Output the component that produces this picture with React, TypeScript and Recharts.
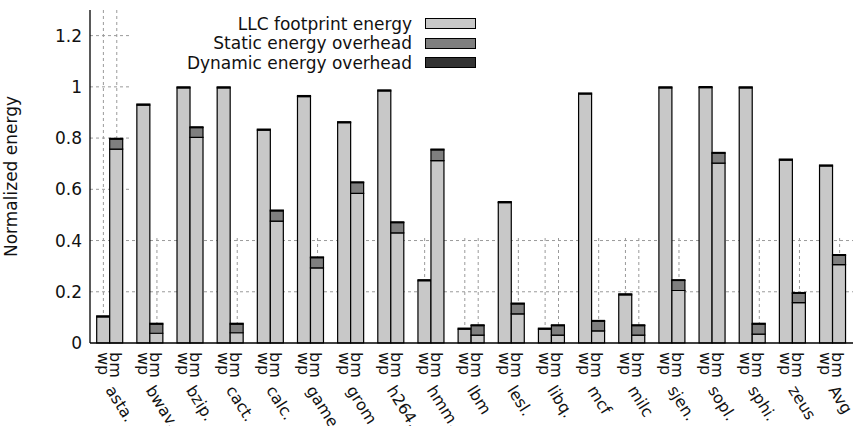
import {
  BarChart,
  Bar,
  XAxis,
  YAxis,
  CartesianGrid,
  Legend,
  ReferenceArea,
} from "recharts";

// benchmark groups, each drawn as a "wp" bar and a "bm" bar
const benchmarks = [
  "asta.", "bwav.", "bzip.", "cact.", "calc.", "game.", "grom.", "h264.", "hmm.", "lbm",
  "lesl.", "libq.", "mcf", "milc", "sjen.", "sopl.", "sphi.", "zeus", "Avg",
];

const wpLlc = [
  0.102, 0.929, 0.996, 0.996, 0.831, 0.962, 0.86, 0.984, 0.243, 0.054,
  0.548, 0.054, 0.972, 0.188, 0.996, 0.997, 0.996, 0.714, 0.691,
];
const wpStatic = [
  0, 0, 0, 0, 0, 0, 0, 0, 0, 0,
  0, 0, 0, 0, 0, 0, 0, 0, 0,
];
const wpDynamic = [
  0.004, 0.004, 0.004, 0.004, 0.004, 0.004, 0.004, 0.004, 0.004, 0.004,
  0.004, 0.004, 0.004, 0.004, 0.004, 0.004, 0.004, 0.004, 0.004,
];

const bmLlc = [
  0.757, 0.038, 0.803, 0.04, 0.476, 0.293, 0.584, 0.43, 0.712, 0.031,
  0.114, 0.031, 0.047, 0.031, 0.205, 0.702, 0.035, 0.158, 0.306,
];
const bmStatic = [
  0.039, 0.036, 0.038, 0.034, 0.04, 0.04, 0.042, 0.04, 0.042, 0.037,
  0.039, 0.037, 0.038, 0.037, 0.039, 0.039, 0.039, 0.036, 0.036,
];
const bmDynamic = [
  0.003, 0.003, 0.003, 0.003, 0.003, 0.003, 0.003, 0.003, 0.003, 0.003,
  0.003, 0.003, 0.003, 0.003, 0.003, 0.003, 0.003, 0.003, 0.003,
];

const yTicks = [0, 0.2, 0.4, 0.6, 0.8, 1, 1.2];
const seriesNames = ["LLC footprint energy", "Static energy overhead", "Dynamic energy overhead"];
const seriesColors = ["#c8c8c8", "#7f7f7f", "#333333"];

const data = benchmarks.map((name, i) => ({
  name,
  wpLlc: wpLlc[i],
  wpStatic: wpStatic[i],
  wpDynamic: wpDynamic[i],
  bmLlc: bmLlc[i],
  bmStatic: bmStatic[i],
  bmDynamic: bmDynamic[i],
}));

const FONT = "'DejaVu Sans', sans-serif";
const TEXT = "#111";

// wp / bm labels straight down, benchmark name slanted under them
const GroupTick = ({ x, y, payload }: any) => (
  <g fontFamily={FONT} fontSize={16} fill={TEXT}>
    <text transform={`translate(${x - 12.5},${y + 1}) rotate(90)`}>wp</text>
    <text transform={`translate(${x - 0.5},${y + 1}) rotate(90)`}>bm</text>
    <text transform={`translate(${x - 5},${y + 39}) rotate(58)`}>{payload.value}</text>
  </g>
);

const KeyBox = () => (
  <div style={{ width: 326, fontFamily: FONT, fontSize: 17, color: TEXT }}>
    {seriesNames.map((n, i) => (
      <div
        key={n}
        style={{ display: "flex", justifyContent: "flex-end", alignItems: "center", height: 19.5 }}
      >
        <span style={{ marginRight: 13, whiteSpace: "nowrap" }}>{n}</span>
        <span
          style={{
            display: "inline-block",
            width: 49,
            height: 9,
            background: seriesColors[i],
            border: "1px solid #000",
          }}
        />
      </div>
    ))}
  </div>
);

const barLines = (w: number, offset: any) => {
  const band = (w - offset.left - offset.right) / benchmarks.length;
  return benchmarks.flatMap((_, i) => [
    offset.left + band * (i + 1 / 3),
    offset.left + band * (i + 2 / 3),
  ]);
};

export default function App() {
  return (
    <div style={{ position: "absolute", left: 0, top: 0, fontFamily: FONT }}>
      <BarChart
        width={859}
        height={426}
        data={data}
        margin={{ top: 10, right: 6, left: 0, bottom: 0 }}
        barCategoryGap="16.67%"
        barGap={0}
      >
        <CartesianGrid
          stroke="#9a9a9a"
          strokeDasharray="3 3"
          horizontalValues={[0.2, 0.4, 0.6, 0.8, 1, 1.2]}
          verticalCoordinatesGenerator={({ width, offset }: any) => barLines(width, offset)}
        />
        {/* opaque key box hides the grid behind it */}
        <ReferenceArea
          x1="bwav."
          y1={0.42}
          y2={1.3}
          fill="#fff"
          fillOpacity={1}
          stroke="none"
          ifOverflow="visible"
        />
        <XAxis
          dataKey="name"
          interval={0}
          height={83}
          tickLine={false}
          axisLine={{ stroke: "#000", strokeWidth: 1.3 }}
          tick={<GroupTick />}
        />
        <XAxis
          xAxisId="top"
          dataKey="name"
          orientation="top"
          height={0}
          tick={false}
          tickLine={false}
          axisLine={{ stroke: "#000", strokeWidth: 1.3 }}
        />
        <YAxis
          domain={[0, 1.3]}
          ticks={yTicks}
          width={90}
          tickLine={false}
          axisLine={{ stroke: "#000", strokeWidth: 1.3 }}
          tick={{ fontSize: 17, fill: TEXT, fontFamily: FONT }}
          label={{
            value: "Normalized energy",
            angle: -90,
            position: "insideLeft",
            offset: 11,
            style: { textAnchor: "middle", fontSize: 17, fill: TEXT, fontFamily: FONT },
          }}
        />
        <YAxis
          yAxisId="right"
          orientation="right"
          domain={[0, 1.3]}
          width={0}
          tick={false}
          tickLine={false}
          axisLine={{ stroke: "#000", strokeWidth: 1.3 }}
        />
        <Legend
          content={<KeyBox />}
          layout="vertical"
          align="center"
          verticalAlign="middle"
          wrapperStyle={{ position: "absolute", top: 14, left: 150, width: 326 }}
        />
        <Bar dataKey="wpLlc" stackId="wp" fill={seriesColors[0]} stroke="#000" strokeWidth={1.2} isAnimationActive={false} />
        <Bar dataKey="wpStatic" stackId="wp" fill={seriesColors[1]} stroke="#000" strokeWidth={1.2} isAnimationActive={false} />
        <Bar dataKey="wpDynamic" stackId="wp" fill={seriesColors[2]} stroke="#000" strokeWidth={1.2} isAnimationActive={false} />
        <Bar dataKey="bmLlc" stackId="bm" fill={seriesColors[0]} stroke="#000" strokeWidth={1.2} isAnimationActive={false} />
        <Bar dataKey="bmStatic" stackId="bm" fill={seriesColors[1]} stroke="#000" strokeWidth={1.2} isAnimationActive={false} />
        <Bar dataKey="bmDynamic" stackId="bm" fill={seriesColors[2]} stroke="#000" strokeWidth={1.2} isAnimationActive={false} />
      </BarChart>
    </div>
  );
}
